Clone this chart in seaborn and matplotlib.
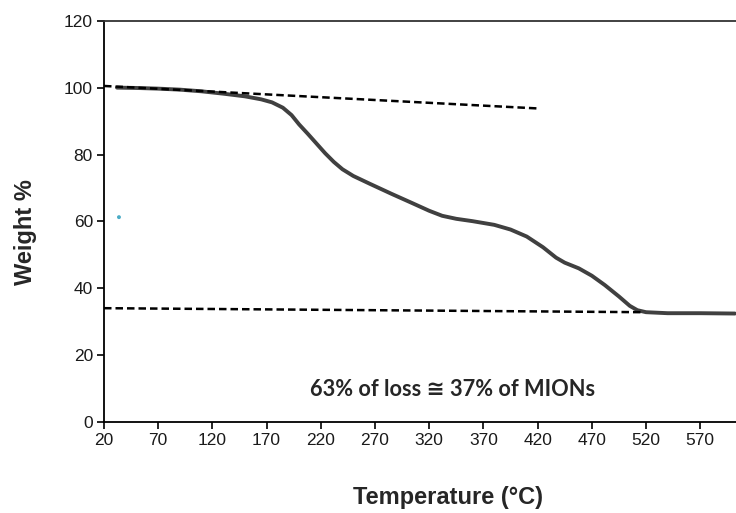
import matplotlib
matplotlib.use("Agg")
import matplotlib.pyplot as plt
import seaborn as sns
import pandas as pd

# TGA curve (Temperature °C, Weight %)
temperature = [32, 50, 70, 90, 110, 130, 150, 165, 175, 185, 193, 200, 208, 216, 224,
               232, 240, 250, 265, 285, 305, 320, 332, 345, 360, 380, 395, 410, 425,
               437, 445, 458, 470, 482, 495, 505, 512, 520, 540, 570, 602]
weight = [100.0, 99.9, 99.7, 99.4, 98.9, 98.2, 97.4, 96.5, 95.6, 94.0, 91.8, 89.0,
          86.2, 83.3, 80.4, 77.8, 75.6, 73.6, 71.3, 68.3, 65.4, 63.2, 61.7, 60.8,
          60.1, 59.0, 57.6, 55.5, 52.3, 49.2, 47.7, 46.0, 43.8, 41.0, 37.6, 34.8,
          33.5, 32.9, 32.6, 32.6, 32.5]

# Tangent (dashed) guide lines
upper_x = [20, 419]
upper_y = [100.5, 93.8]
lower_x = [20, 517]
lower_y = [34.1, 32.9]

# stray marker
dot_x = [33.8]
dot_y = [61.3]

x_ticks = [20, 70, 120, 170, 220, 270, 320, 370, 420, 470, 520, 570]
y_ticks = [0, 20, 40, 60, 80, 100, 120]

annotation = "63% of loss \u2245 37% of MIONs"

sns.set_style("white")
plt.rcParams['font.family'] = ['Liberation Sans', 'DejaVu Sans']

fig = plt.figure(figsize=(7.36, 5.13), dpi=100)
ax = fig.add_axes([104/736, 1 - 422.3/513, 1 - 104/736, (422.3 - 20.7)/513])

df = pd.DataFrame({"Temperature": temperature, "Weight": weight})
sns.lineplot(data=df, x="Temperature", y="Weight", ax=ax, color="#404040",
             linewidth=2.8, sort=True)
sns.lineplot(x=upper_x, y=upper_y, ax=ax, color="black", linewidth=1.8,
             linestyle=(0, (3, 1.6)))
sns.lineplot(x=lower_x, y=lower_y, ax=ax, color="black", linewidth=1.8,
             linestyle=(0, (3, 1.6)))
sns.scatterplot(x=dot_x, y=dot_y, ax=ax, color="#4bacc6", s=8, edgecolor="none")

ax.set_xlim(20, 603)
ax.set_ylim(0, 120)
ax.set_xticks(x_ticks)
ax.set_yticks(y_ticks)
ax.tick_params(axis="both", direction="out", length=5, width=1.2, color="black",
               labelsize=12.5, pad=3, bottom=True, left=True, labelcolor="#1a1a1a")

for side in ["left", "bottom", "top"]:
    ax.spines[side].set_visible(True)
    ax.spines[side].set_color("black")
    ax.spines[side].set_linewidth(1.3)
ax.spines["top"].set_color("#333333")
ax.spines["right"].set_visible(False)

ax.set_xlabel("Temperature (\u00b0C)", fontsize=17, fontweight="bold")
ax.set_ylabel("Weight %", fontsize=17, fontweight="bold")
ax.xaxis.label.set_va("baseline")
ax.yaxis.label.set_va("baseline")
ax.xaxis.set_label_coords((448 - 104)/632, -(504.3 - 422.3)/401.6)
ax.yaxis.set_label_coords(-(104 - 32)/632, (422.3 - 232.5)/401.6)

ax.text(341.5, 7.86, annotation, ha="center", va="baseline", fontsize=15.7,
        fontweight="bold", family=["Lato", "DejaVu Sans"])

fig.savefig("out.png", dpi=100)
